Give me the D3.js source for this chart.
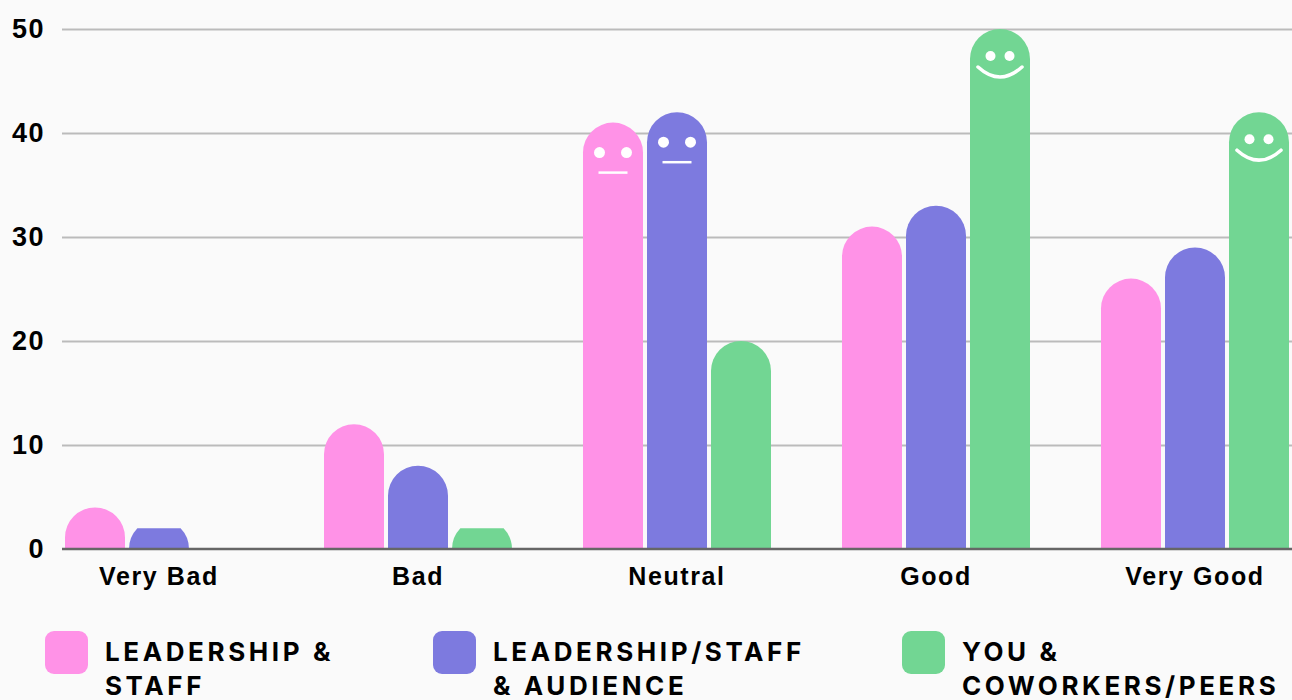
<!DOCTYPE html>
<html>
<head>
<meta charset="utf-8">
<script src="https://cdn.jsdelivr.net/npm/d3@7"></script>
<style>
    body { margin: 0; background: #fafafa; }
    svg { display: block; }
    .tick-y text { font-family: 'Liberation Sans', Arial, sans-serif; font-weight: 700; font-size: 27px; letter-spacing: 1.5px; fill: #000; }
    .axis-x text { font-family: 'Liberation Sans', Arial, sans-serif; font-weight: 700; font-size: 25px; letter-spacing: 1.6px; fill: #000; }
    .legend text { font-family: Inter, 'Noto Sans', sans-serif; font-weight: 700; font-size: 26px; letter-spacing: 3.6px; fill: #000; }
</style>
</head>
<body>
<svg id="chart"></svg>
<script>
//chart data
var categories = ['Very Bad', 'Bad', 'Neutral', 'Good', 'Very Good'];
var seriesNames = ['Leadership & Staff', 'Leadership/Staff & Audience', 'You & Coworkers/Peers'];
var leadershipStaff = [4, 12, 41, 31, 26];
var leadershipAudience = [2, 8, 42, 33, 29];
var youCoworkers = [0, 2, 20, 50, 42];
var yTicks = [0, 10, 20, 30, 40, 50];
var legendLines = [['LEADERSHIP &', 'STAFF'], ['LEADERSHIP/STAFF', '& AUDIENCE'], ['YOU &', 'COWORKERS/PEERS']];
//faces drawn on some bars: [category, series index, face type]
var faces = [['Neutral', 0, 'neutral'], ['Neutral', 1, 'neutral'], ['Good', 2, 'smile'], ['Very Good', 2, 'smile']];

var colors = ['#ff92e7', '#7d7adf', '#72d693'];
var legendX = [45, 433, 902];

//chart parameters
var svg = d3.select('#chart')
    .attr('width', 1292)
    .attr('height', 700);

svg.append('rect')
    .attr('width', 1292)
    .attr('height', 700)
    .attr('fill', '#fafafa');

//define plot extent
var plotLeft = 62, plotRight = 1292,
    baseline = 549, plotTop = 29;

//define scales
var x0 = d3.scaleBand()
    .domain(categories)
    .range([29.5, 1324.5])
    .paddingInner(71 / 259)
    .paddingOuter(35.5 / 259);

var x1 = d3.scaleBand()
    .domain(d3.range(seriesNames.length))
    .range([0, x0.bandwidth()])
    .paddingInner(4 / 64)
    .paddingOuter(0);

var yScale = d3.scaleLinear().domain([0, 50]).range([baseline, plotTop]);

//build rows
var seriesValues = [leadershipStaff, leadershipAudience, youCoworkers];
var rows = [];
categories.forEach((c, i) => {
    seriesValues.forEach((vals, s) => {
        rows.push({cat: c, series: s, value: vals[i]});
    });
});

//y gridlines
var grid = svg.append('g')
    .attr('class', 'grid')
    .attr('transform', 'translate(' + plotLeft + ',0)')
    .call(d3.axisLeft(yScale).tickValues(yTicks.slice(1)).tickSize(-(plotRight - plotLeft)).tickFormat(''));
grid.select('.domain').remove();
grid.selectAll('line').attr('stroke', '#bbbbbb').attr('stroke-width', 2);

//y tick labels
var yAxis = svg.append('g')
    .attr('class', 'tick-y')
    .attr('transform', 'translate(45,0)')
    .call(d3.axisLeft(yScale).tickValues(yTicks).tickSize(0).tickPadding(0));
yAxis.select('.domain').remove();
yAxis.selectAll('text').attr('dy', '0.3em');

//bar shape: rounded top, clipped near zero
function barPath(x, w, h) {
    var r = w / 2, cx = x + r;
    if (h <= 0) return '';
    if (h >= r) {
        return 'M' + x + ',' + baseline
            + 'L' + x + ',' + (baseline - h + r)
            + 'A' + r + ',' + r + ' 0 0 1 ' + (x + w) + ',' + (baseline - h + r)
            + 'L' + (x + w) + ',' + baseline + 'Z';
    }
    var hw = Math.sqrt(r * r - h * h);
    return 'M' + x + ',' + baseline
        + 'A' + r + ',' + r + ' 0 0 1 ' + (cx - hw) + ',' + (baseline - h)
        + 'L' + (cx + hw) + ',' + (baseline - h)
        + 'A' + r + ',' + r + ' 0 0 1 ' + (x + w) + ',' + baseline + 'Z';
}

//bars
svg.append('g')
    .attr('class', 'bars')
    .selectAll('path').data(rows)
    .enter().append('path')
        .attr('d', d => barPath(x0(d.cat) + x1(d.series), x1.bandwidth(), baseline - yScale(d.value)))
        .attr('fill', d => colors[d.series]);

//x axis line
svg.append('line')
    .attr('x1', plotLeft).attr('x2', plotRight)
    .attr('y1', baseline).attr('y2', baseline)
    .attr('stroke', '#666').attr('stroke-width', 2.5);

//x axis labels
var xAxis = svg.append('g')
    .attr('class', 'axis-x')
    .attr('transform', 'translate(0,' + (baseline + 18) + ')')
    .call(d3.axisBottom(x0).tickSize(0).tickPadding(0));
xAxis.select('.domain').remove();

//faces
var faceG = svg.append('g').attr('class', 'faces');
faces.forEach(f => {
    var cat = f[0], s = f[1], type = f[2];
    var i = categories.indexOf(cat);
    var cx = x0(cat) + x1(s) + x1.bandwidth() / 2,
        ty = yScale(seriesValues[s][i]);
    var g = faceG.append('g');
    if (type === 'neutral') {
        [-13.5, 13.5].forEach(dx => g.append('circle')
            .attr('cx', cx + dx).attr('cy', ty + 30).attr('r', 5.5).attr('fill', '#fff'));
        g.append('line')
            .attr('x1', cx - 14.5).attr('x2', cx + 14.5)
            .attr('y1', ty + 50).attr('y2', ty + 50)
            .attr('stroke', '#fff').attr('stroke-width', 2.5);
    } else {
        [-9.5, 9.5].forEach(dx => g.append('circle')
            .attr('cx', cx + dx).attr('cy', ty + 27).attr('r', 5).attr('fill', '#fff'));
        g.append('path')
            .attr('d', 'M' + (cx - 22) + ',' + (ty + 38) + ' Q' + cx + ',' + (ty + 58) + ' ' + (cx + 22) + ',' + (ty + 38))
            .attr('fill', 'none').attr('stroke', '#fff').attr('stroke-width', 3.5).attr('stroke-linecap', 'round');
    }
});

//legend
var legend = svg.append('g').attr('class', 'legend');
seriesNames.forEach((name, s) => {
    var g = legend.append('g').attr('transform', 'translate(' + legendX[s] + ',631)');
    g.append('rect')
        .attr('width', 43).attr('height', 43).attr('rx', 9)
        .attr('fill', colors[s]);
    legendLines[s].forEach((line, j) => {
        g.append('text')
            .attr('x', 60)
            .attr('y', 30 + j * 34)
            .text(line);
    });
});
</script>
</body>
</html>
